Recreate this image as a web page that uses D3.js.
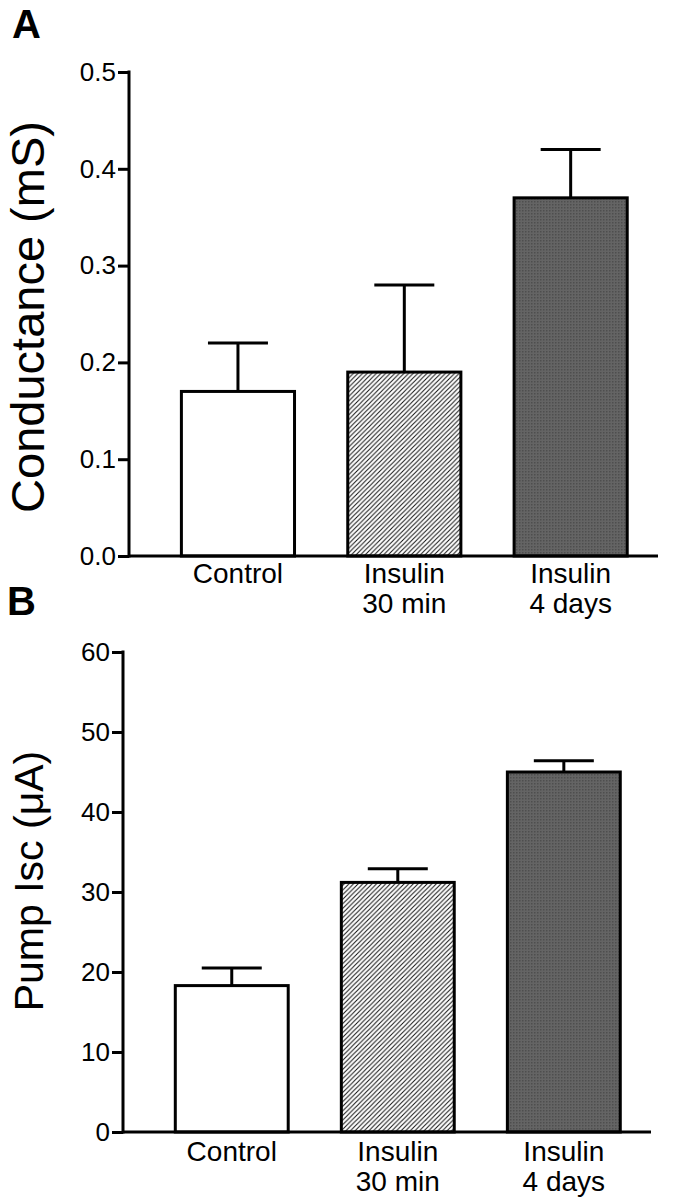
<!DOCTYPE html>
<html>
<head>
<meta charset="utf-8">
<script src="https://cdn.jsdelivr.net/npm/d3@7"></script>
<style>
  html, body { margin: 0; padding: 0; background: #fff; }
  svg { display: block; font-family: "Liberation Sans", Arial, Helvetica, sans-serif; }
</style>
</head>
<body>
<svg id="chart" width="687" height="1199"></svg>
<script>
// ---- data ----
const categories = ["Control", "Insulin\n30 min", "Insulin\n4 days"];
const conductanceMean = [0.17, 0.19, 0.37];
const conductanceErr  = [0.05, 0.09, 0.05];
const pumpMean = [18.3, 31.2, 45.0];
const pumpErr  = [2.2, 1.7, 1.4];
const conductanceTicks = [0.0, 0.1, 0.2, 0.3, 0.4, 0.5];
const pumpTicks = [0, 10, 20, 30, 40, 50, 60];

const svg = d3.select("#chart");
const defs = svg.append("defs");
const hatch = defs.append("pattern")
  .attr("id", "hatch").attr("patternUnits", "userSpaceOnUse")
  .attr("width", 4.6).attr("height", 4.6);
hatch.append("path")
  .attr("d", "M-1,1 L1,-1 M0,4.6 L4.6,0 M3.6,5.6 L5.6,3.6")
  .attr("stroke", "#111").attr("stroke-width", 1);

// texture for dark bar
const tex = defs.append("pattern")
  .attr("id", "tex").attr("patternUnits", "userSpaceOnUse")
  .attr("width", 3).attr("height", 3);
tex.append("rect").attr("width", 3).attr("height", 3).attr("fill", "#646464");
tex.append("rect").attr("width", 1.5).attr("height", 1.5).attr("fill", "#4e4e4e");

const fills = ["white", "url(#hatch)", "url(#tex)"];

function panel(cfg) {
  const g = svg.append("g");
  const y = d3.scaleLinear().domain(cfg.domain).range([cfg.y0, cfg.y1]);
  const x = d3.scaleBand().domain(categories).range([cfg.axisX, cfg.xEnd])
    .paddingInner(0.32).paddingOuter(0.25).align(0.63);

  // bars
  g.selectAll("rect.bar").data(categories).enter().append("rect")
    .attr("class", "bar")
    .attr("x", d => x(d))
    .attr("width", x.bandwidth())
    .attr("y", (d, i) => y(cfg.mean[i]))
    .attr("height", (d, i) => y(0) - y(cfg.mean[i]))
    .attr("fill", (d, i) => fills[i])
    .attr("stroke", "#000").attr("stroke-width", 3);

  // error bars
  const capW = 60;
  categories.forEach((c, i) => {
    const cx = x(c) + x.bandwidth() / 2;
    g.append("line")
      .attr("x1", cx).attr("x2", cx)
      .attr("y1", y(cfg.mean[i])).attr("y2", y(cfg.mean[i] + cfg.err[i]))
      .attr("stroke", "#000").attr("stroke-width", 3);
    g.append("line")
      .attr("x1", cx - capW / 2).attr("x2", cx + capW / 2)
      .attr("y1", y(cfg.mean[i] + cfg.err[i])).attr("y2", y(cfg.mean[i] + cfg.err[i]))
      .attr("stroke", "#000").attr("stroke-width", 3);
  });

  // x axis line
  g.append("line")
    .attr("x1", cfg.axisX).attr("x2", cfg.xEnd)
    .attr("y1", y(0)).attr("y2", y(0))
    .attr("stroke", "#000").attr("stroke-width", 3);

  // y axis
  const ax = g.append("g").attr("transform", `translate(${cfg.axisX},0)`)
    .call(d3.axisLeft(y).tickValues(cfg.ticks).tickFormat(cfg.fmt)
      .tickSize(11).tickSizeOuter(0).tickPadding(2));
  ax.select(".domain").attr("stroke-width", 3).attr("d", `M0,${y(cfg.domain[0]) + 1.5}V${y(cfg.domain[1]) - 1.5}`);
  ax.selectAll(".tick line").attr("stroke-width", 3);
  ax.selectAll(".tick text").attr("font-size", 26).attr("fill", "#000")
    .attr("font-family", "Liberation Sans, Arial, sans-serif");

  // category labels
  categories.forEach(c => {
    const cx = x(c) + x.bandwidth() / 2;
    const lines = c.split("\n");
    lines.forEach((l, k) => {
      g.append("text").attr("text-anchor", "middle")
        .attr("font-size", 28).attr("fill", "#000")
        .attr("x", cx).attr("y", y(0) + cfg.labelDy + k * cfg.lineGap).text(l);
    });
  });

  // y title
  g.append("text")
    .attr("transform", `translate(${cfg.titleX},${cfg.titleY}) rotate(-90)`)
    .attr("text-anchor", "middle").attr("font-size", cfg.titleSize).attr("fill", "#000")
    .text(cfg.title);

  // panel letter
  g.append("text").attr("x", cfg.letterX).attr("y", cfg.letterY)
    .attr("font-size", 40).attr("font-weight", "bold").attr("fill", "#000")
    .text(cfg.letter);
}

panel({
  domain: [0, 0.5], y0: 556, y1: 72, axisX: 129, xEnd: 658,
  mean: conductanceMean, err: conductanceErr, ticks: conductanceTicks,
  fmt: d3.format(".1f"), labelDy: 27, lineGap: 30,
  title: "Conductance (mS)", titleX: 44, titleY: 317, titleSize: 47,
  letter: "A", letterX: 12, letterY: 38
});

panel({
  domain: [0, 60], y0: 1132, y1: 652, axisX: 123, xEnd: 651,
  mean: pumpMean, err: pumpErr, ticks: pumpTicks,
  fmt: d3.format("d"), labelDy: 29, lineGap: 30,
  title: "Pump Isc (\u03BCA)", titleX: 43, titleY: 881, titleSize: 41,
  letter: "B", letterX: 7, letterY: 615
});
</script>
</body>
</html>
